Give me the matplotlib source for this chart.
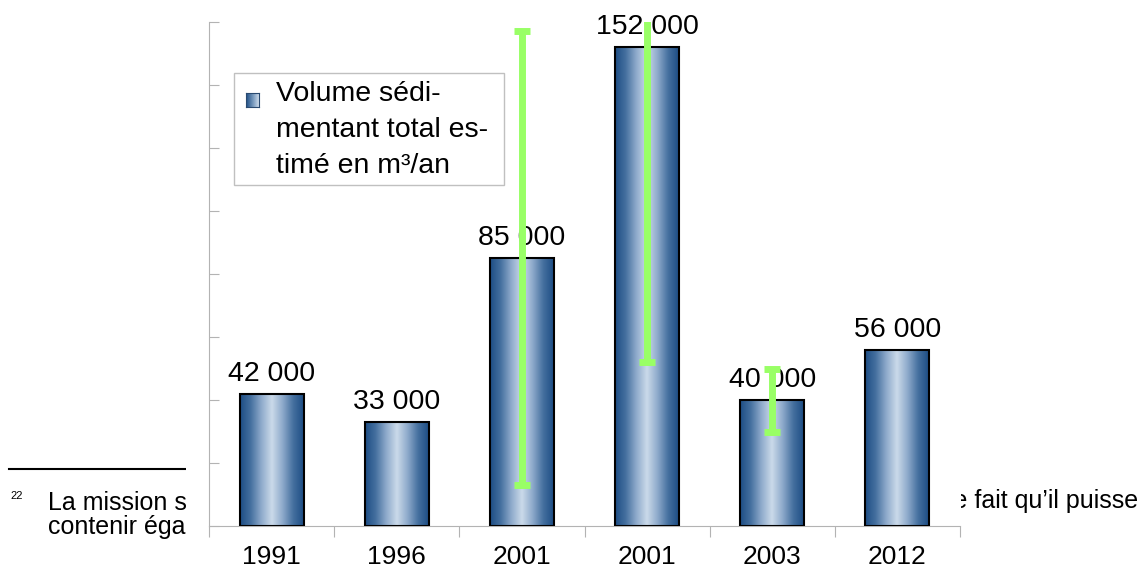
import numpy as np
import matplotlib.pyplot as plt
from matplotlib.colors import LinearSegmentedColormap
from matplotlib.patches import Rectangle
from matplotlib.lines import Line2D

plt.rcParams['font.family'] = ['Liberation Sans', 'DejaVu Sans']

# data
years = ['1991', '1996', '2001', '2001', '2003', '2012']
volumes = [42000, 33000, 85000, 152000, 40000, 56000]
err_idx = [2, 3, 4]
err_low = [72000, 100000, 10000]
err_high = [72000, 100000, 10000]
legend_lines = ['Volume sédi-', 'mentant total es-', 'timé en m³/an']

W, H = 1143, 574
fig = plt.figure(figsize=(W / 100, H / 100), dpi=100)

def fx(x):
    return x / W

def fy(y):
    return 1 - y / H

# footnote text sitting behind the chart
fig.add_artist(Line2D([fx(9), fx(200)], [fy(469), fy(469)], color='black', lw=1.5, zorder=-1))
fig.text(fx(10), fy(499), '22', fontsize=8, va='baseline', zorder=-1)
fig.text(fx(48), fy(510), 'La mission s’est appuyée sur les estimations disponibles', fontsize=18, va='baseline', zorder=-1)
fig.text(fx(48), fy(534), 'contenir également des apports', fontsize=18, va='baseline', zorder=-1)
fig.text(fx(1138), fy(508), 'ce fait qu’il puisse', fontsize=18, va='baseline', ha='right', zorder=-1)
fig.patches.append(Rectangle((fx(186), 0), fx(961) - fx(186), 1, transform=fig.transFigure,
                             facecolor='white', edgecolor='none', zorder=-0.5))

ax = fig.add_axes([fx(209), fy(526), fx(960) - fx(209), (526 - 22) / H])
ax.set_facecolor('white')

x = np.arange(len(years)) + 0.5
bars = ax.bar(x, volumes, width=0.51, facecolor='none', edgecolor='black', linewidth=1.5, zorder=3)

cmap = LinearSegmentedColormap.from_list('bar', ['#1d4d84', '#45709f', '#8eaacb', '#cbdaea',
                                                 '#8eaacb', '#45709f', '#1d4d84'])
grad = np.linspace(0, 1, 256).reshape(1, -1)
for b in bars:
    x0, w, h = b.get_x(), b.get_width(), b.get_height()
    ax.imshow(grad, cmap=cmap, extent=(x0, x0 + w, 0, h), aspect='auto', zorder=2)

for xi, v in zip(x, volumes):
    ax.annotate(f'{v:,}'.replace(',', ' '), (xi, v), xytext=(0, 9.3), textcoords='offset points',
                ha='center', va='baseline', fontsize=20.5, zorder=4)

ax.errorbar(x[err_idx], [volumes[i] for i in err_idx], yerr=[err_low, err_high], fmt='none',
            ecolor='#99ff66', elinewidth=5, capsize=5.5, capthick=5, zorder=5)

ax.set_xlim(0, len(years))
ax.set_ylim(0, 160000)
ax.set_xticks(range(len(years) + 1))
ax.set_xticklabels([])
ax.set_xticks(x, minor=True)
ax.set_xticklabels(years, minor=True, fontsize=19)
ax.tick_params(axis='x', which='major', direction='out', length=8, color='#b3b3b3')
ax.tick_params(axis='x', which='minor', length=0, pad=14)
ax.set_yticks(np.arange(0, 160001, 20000))
ax.set_yticklabels([])
ax.tick_params(axis='y', direction='in', length=7, color='#b3b3b3')
for s in ['top', 'right']:
    ax.spines[s].set_visible(False)
for s in ['left', 'bottom']:
    ax.spines[s].set_color('#b3b3b3')

# legend box
ax.add_patch(Rectangle((fx(234), fy(185)), (504 - 234) / W, (185 - 73) / H, transform=fig.transFigure,
                       facecolor='white', edgecolor='#c0c0c0', lw=1, clip_on=False, zorder=6))
for i, line in enumerate(legend_lines):
    ax.text(fx(276), fy(101 + 36 * i), line, transform=fig.transFigure, fontsize=20.5,
            va='baseline', zorder=7)
lax = fig.add_axes([fx(246), fy(107), 13 / W, 14 / H])
lax.imshow(np.linspace(0, 1, 64).reshape(1, -1), cmap=LinearSegmentedColormap.from_list(
    'leg', ['#1d4d84', '#6f92b8', '#cbdaea']), aspect='auto')
lax.set_xticks([])
lax.set_yticks([])
for s in lax.spines.values():
    s.set_color('#2a4a70')

fig.savefig('out.png', dpi=100)
